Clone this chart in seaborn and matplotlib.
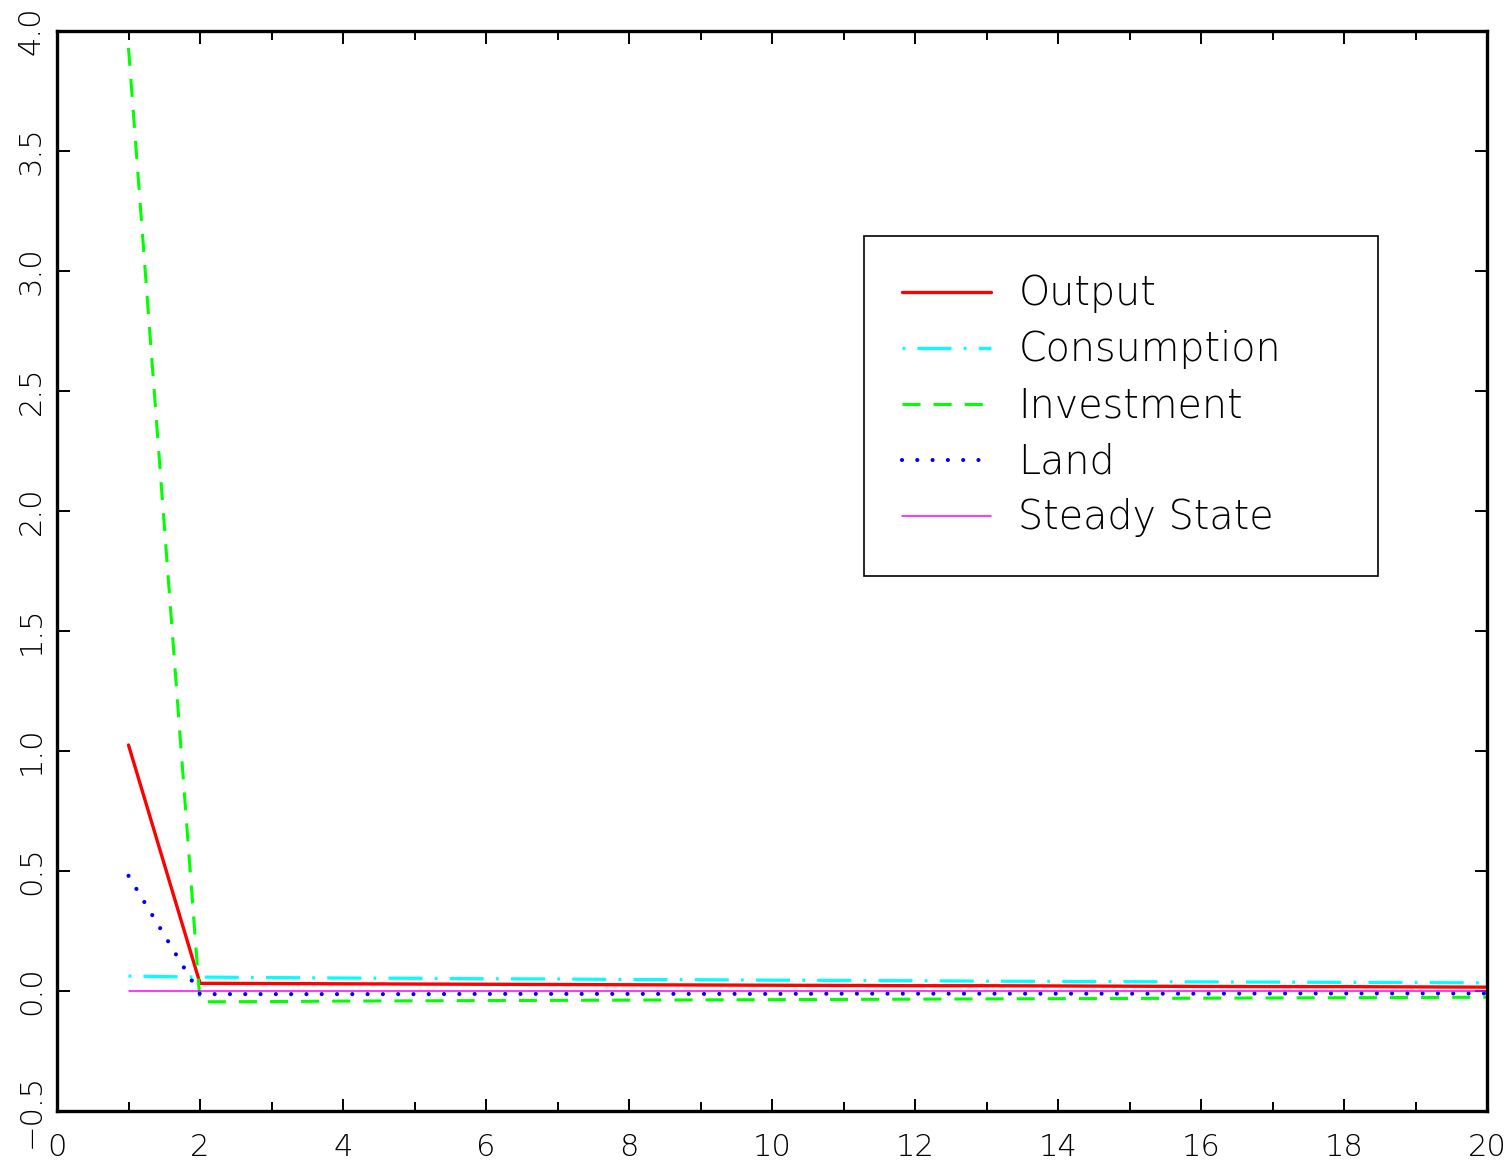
import matplotlib
matplotlib.use("Agg")
import matplotlib.pyplot as plt
import seaborn as sns
from matplotlib.ticker import MultipleLocator

# Impulse responses, deviation from steady state, periods 1..20
periods = list(range(1, 21))
output = [1.025, 0.032, 0.031, 0.030, 0.029, 0.028, 0.027, 0.026, 0.025, 0.024,
          0.023, 0.022, 0.022, 0.021, 0.020, 0.019, 0.018, 0.018, 0.017, 0.016]
consumption = [0.062, 0.058, 0.056, 0.054, 0.053, 0.051, 0.050, 0.048, 0.047, 0.045,
               0.044, 0.043, 0.041, 0.040, 0.039, 0.038, 0.037, 0.036, 0.035, 0.034]
investment = [3.93, -0.045, -0.044, -0.042, -0.041, -0.040, -0.039, -0.038, -0.037, -0.036,
              -0.035, -0.034, -0.033, -0.032, -0.031, -0.030, -0.029, -0.028, -0.027, -0.026]
land = [0.48, -0.013, -0.013, -0.013, -0.013, -0.012, -0.012, -0.012, -0.012, -0.012,
        -0.011, -0.011, -0.011, -0.011, -0.011, -0.011, -0.010, -0.010, -0.010, -0.010]
steady_state = [0.0] * 20

labels = ["Output", "Consumption", "Investment", "Land", "Steady State"]
x_ticks = list(range(0, 21, 2))
y_ticks = [-0.5, 0.0, 0.5, 1.0, 1.5, 2.0, 2.5, 3.0, 3.5, 4.0]
y_tick_labels = ["\u22120.5", "0.0", "0.5", "1.0", "1.5", "2.0", "2.5", "3.0", "3.5", "4.0"]

sns.set_theme(style="white")
plt.rcParams["font.family"] = ["DejaVu Sans"]
plt.rcParams["lines.scale_dashes"] = False
plt.rcParams["text.color"] = "black"
plt.rcParams["xtick.color"] = "black"
plt.rcParams["ytick.color"] = "black"

fig = plt.figure(figsize=(15.11, 11.66), dpi=100)
ax = fig.add_axes([57 / 1511, 55 / 1166, 1430 / 1511, 1080 / 1166])

styles = [
    (output, "#ff0000", 2.4, "-", "butt"),
    (consumption, "#00ffff", 2.3, (0, (2.0, 8.8, 24.5, 8.8)), "butt"),
    (investment, "#00ff00", 2.2, (0, (13.0, 9.4)), "butt"),
    (land, "#0000ff", 3.0, (0, (0.01, 11.0)), "round"),
    (steady_state, "#ff00ff", 1.1, "-", "butt"),
]
for name, (vals, color, lw, ls, cap) in zip(labels, styles):
    sns.lineplot(x=periods, y=vals, ax=ax, color=color, linewidth=lw,
                 linestyle=ls, dash_capstyle=cap, label=name)

ax.set_xlim(0, 20)
ax.set_ylim(-0.5, 4.0)
ax.set_xticks(x_ticks)
ax.set_xticklabels([str(v) for v in x_ticks])
ax.set_yticks(y_ticks)
ax.set_yticklabels(y_tick_labels)
ax.xaxis.set_minor_locator(MultipleLocator(1))

for side in ["left", "right", "top", "bottom"]:
    ax.spines[side].set_visible(True)
    ax.spines[side].set_color("black")
    ax.spines[side].set_linewidth(2.4)

ax.tick_params(which="both", direction="in", top=True, right=True,
               bottom=True, left=True, color="black", width=1.4)
ax.tick_params(which="major", length=9)
ax.tick_params(which="minor", length=6.8)
ax.tick_params(axis="x", which="major", labelsize=22, pad=16, labelcolor="black")
ax.tick_params(axis="y", which="major", labelsize=22, pad=8, labelrotation=90,
               labelcolor="black")
for lab in ax.get_yticklabels():
    lab.set_va("center")
for lab in ax.get_xticklabels() + ax.get_yticklabels():
    lab.set_fontweight("light")

leg = ax.legend(loc="upper left", bbox_to_anchor=(0.5643, 0.5, 0.3594, 0.3102),
                mode="expand", fontsize=28.5, frameon=True, fancybox=False,
                shadow=False, framealpha=1, edgecolor="black",
                handlelength=2.25, handletextpad=0.68, labelspacing=0.43,
                borderpad=0.97, borderaxespad=0)
leg.get_frame().set_linewidth(1.2)
for t in leg.get_texts():
    t.set_fontweight("light")
    t.set_color("black")

fig.savefig("out.png", dpi=100, facecolor="white")
